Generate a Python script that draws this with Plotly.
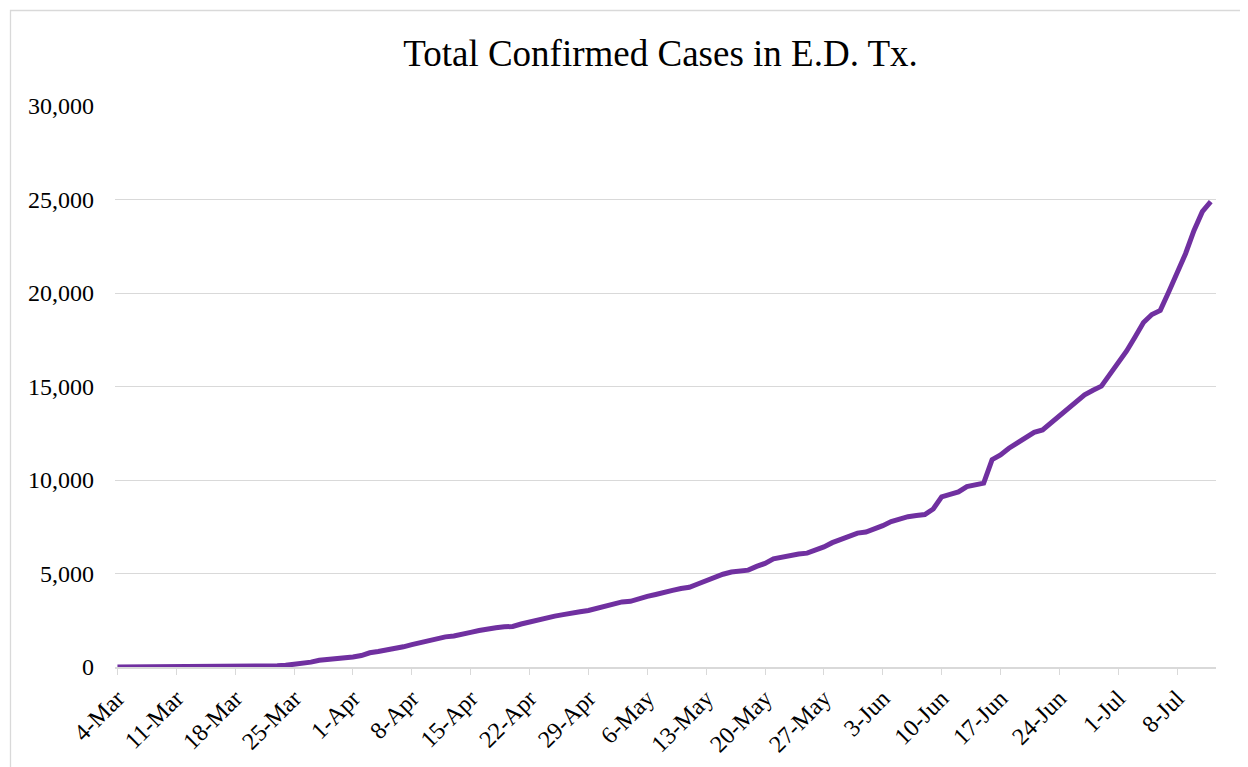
import plotly.graph_objects as go
import pandas as pd

# Daily dates 4-Mar-2020 .. 12-Jul-2020
start_date = "2020-03-04"
n_days = 131
dates = pd.date_range(start_date, periods=n_days, freq="D")

total_cases = [
    0, 0, 0, 0, 1, 1, 1, 2, 3, 4, 5, 6, 8, 10,
    13, 18, 25, 35, 48, 65, 90,
    130, 190, 260, 360, 390, 430, 480,
    540, 610, 760, 830, 900, 980, 1080,
    1200, 1320, 1430, 1520, 1610, 1660, 1780,
    1850, 1950, 2050, 2100, 2150, 2170, 2300,
    2420, 2520, 2620, 2720, 2800, 2850, 2950,
    3020, 3150, 3280, 3420, 3480, 3510, 3680,
    3780, 3880, 4020, 4100, 4200, 4260, 4440,
    4620, 4800, 4960, 5080, 5130, 5180, 5380,
    5540, 5780, 5880, 5980, 6040, 6090, 6250,
    6420, 6650, 6800, 6960, 7160, 7220, 7380,
    7560, 7780, 7920, 8040, 8100, 8150, 8450,
    9100, 9230, 9360, 9650, 9720, 9830, 11090,
    11340, 11700, 11980, 12250, 12550, 12680, 13050,
    13420, 13800, 14150, 14550, 14800, 15020, 15650,
    16270, 16900, 17650, 18420, 18850, 19070, 20050,
    21050, 22100, 23330, 24350, 24880,
]

tick_labels = ["4-Mar", "11-Mar", "18-Mar", "25-Mar", "1-Apr", "8-Apr", "15-Apr",
               "22-Apr", "29-Apr", "6-May", "13-May", "20-May", "27-May", "3-Jun",
               "10-Jun", "17-Jun", "24-Jun", "1-Jul", "8-Jul"]
tick_dates = [dates[i * 7] for i in range(len(tick_labels))]

y_ticks = [0, 5000, 10000, 15000, 20000, 25000, 30000]
title_text = "Total Confirmed Cases in E.D. Tx."

FONT = "Liberation Serif, Times New Roman, serif"
GRID = "#d9d9d9"

fig = go.Figure()
fig.add_trace(go.Scatter(
    x=dates, y=total_cases, mode="lines",
    line=dict(color="#7030a0", width=5),
    hoverinfo="x+y", showlegend=False,
))

OFF = 8  # page body margin
W, H = 1248 - OFF, 767 - OFF
L, R, T, B = 115 - OFF, 1216 - OFF, 106 - OFF, 667 - OFF

def px_x(p):
    return (p - OFF - L) / (R - L)

def px_y(p):
    return (B - (p - OFF)) / (B - T)

fig.update_layout(
    width=W, height=H,
    margin=dict(l=L, r=W - R, t=T, b=H - B, autoexpand=False),
    paper_bgcolor="white", plot_bgcolor="white",
    font=dict(family=FONT, color="black", size=24),
    title=dict(text=title_text, font=dict(family=FONT, size=37, color="black"),
               x=px_x(660.5), xref="paper", xanchor="center",
               y=1 - (53 - OFF) / H, yref="container", yanchor="middle"),
    xaxis=dict(
        type="date",
        range=[dates[0] - pd.Timedelta(hours=7), dates[-1] + pd.Timedelta(hours=15)],
        tickvals=tick_dates, ticktext=tick_labels, tickangle=-45,
        showgrid=False, zeroline=False,
        showline=True, linecolor=GRID, linewidth=1.6,
        ticks="outside", ticklen=6, tickwidth=1.3, tickcolor=GRID,
        tickfont=dict(family=FONT, size=24, color="black"),
    ),
    yaxis=dict(
        range=[0, 30000], tickvals=y_ticks, tickformat=",",
        showgrid=True, gridcolor=GRID, gridwidth=1.3,
        zeroline=False, showline=False, ticks="",
        ticklabelstandoff=20,
        tickfont=dict(family=FONT, size=24, color="black"),
    ),
    shapes=[dict(type="rect", xref="paper", yref="paper",
                 x0=px_x(10.5), x1=px_x(1280), y0=px_y(800), y1=px_y(10.5),
                 line=dict(color=GRID, width=1.3), fillcolor="rgba(0,0,0,0)",
                 layer="below")],
)

fig.write_html("out.html")
